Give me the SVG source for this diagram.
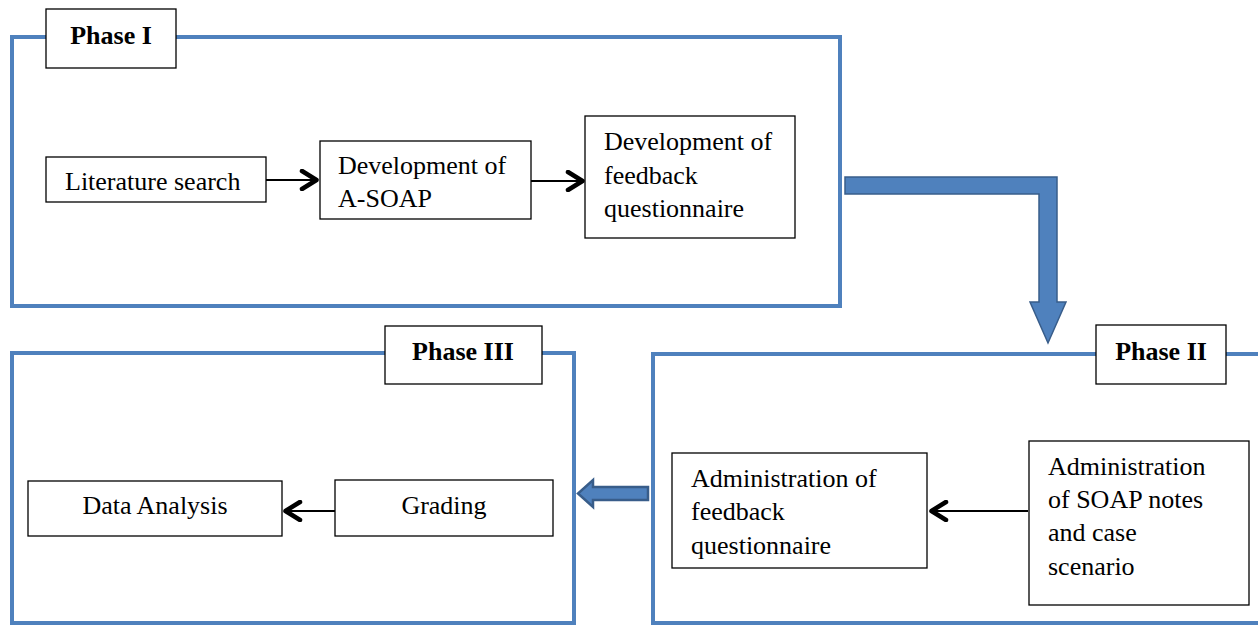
<svg xmlns="http://www.w3.org/2000/svg" width="1258" height="626" viewBox="0 0 1258 626">
<defs>
<style>
.frame{fill:none;stroke:#4f81bd;stroke-width:4}
.box{fill:#fff;stroke:#000;stroke-width:1.3}
.t{font-family:"Liberation Serif","Times New Roman",serif;font-size:26px;fill:#000}
.h{font-family:"Liberation Serif","Times New Roman",serif;font-size:26px;font-weight:bold;fill:#000;text-anchor:middle}
.c{text-anchor:middle}
.conn{stroke:#000;stroke-width:2.2;fill:none}
.block{fill:#4f81bd;stroke:#385d8a;stroke-width:1.5}
</style>
<marker id="chev" viewBox="0 0 22 22" refX="19" refY="11" markerWidth="22" markerHeight="22" markerUnits="userSpaceOnUse" orient="auto">
<path d="M4,2 L18.5,11 L4,20" fill="none" stroke="#000" stroke-width="4.5" stroke-linejoin="round" stroke-linecap="round"/>
</marker>
</defs>
<rect width="1258" height="626" fill="#fff"/>

<g id="phase1">
<rect class="frame" x="12" y="37" width="828" height="269"/>
<rect class="box" x="46" y="9" width="130" height="59"/>
<text class="h" x="111" y="44">Phase I</text>
</g>
<g id="phase2">
<rect class="frame" x="653" y="354" width="620" height="269"/>
<rect class="box" x="1096" y="325" width="130" height="59"/>
<text class="h" x="1161" y="360">Phase II</text>
</g>
<g id="phase3">
<rect class="frame" x="12" y="353" width="562" height="270"/>
<rect class="box" x="385" y="326" width="157" height="58"/>
<text class="h" x="463" y="360">Phase III</text>
</g>

<g id="literature">
<rect class="box" x="46" y="157" width="220" height="45"/>
<text class="t" x="65" y="190">Literature search</text>
</g>
<g id="asoap">
<rect class="box" x="320" y="141" width="211" height="78"/>
<text class="t" x="338" y="174">Development of</text>
<text class="t" x="338" y="207">A-SOAP</text>
</g>
<g id="devfeedback">
<rect class="box" x="585" y="116" width="210" height="122"/>
<text class="t" x="604" y="150">Development of</text>
<text class="t" x="604" y="184">feedback</text>
<text class="t" x="604" y="217">questionnaire</text>
</g>
<g id="adminsoap">
<rect class="box" x="1029" y="441" width="220" height="164"/>
<text class="t" x="1048" y="475">Administration</text>
<text class="t" x="1048" y="508">of SOAP notes</text>
<text class="t" x="1048" y="541">and case</text>
<text class="t" x="1048" y="575">scenario</text>
</g>
<g id="adminfeedback">
<rect class="box" x="672" y="453" width="255" height="115"/>
<text class="t" x="691" y="487">Administration of</text>
<text class="t" x="691" y="520">feedback</text>
<text class="t" x="691" y="554">questionnaire</text>
</g>
<g id="grading">
<rect class="box" x="335" y="480" width="218" height="56"/>
<text class="t c" x="444" y="514">Grading</text>
</g>
<g id="dataanalysis">
<rect class="box" x="28" y="481" width="254" height="55"/>
<text class="t c" x="155" y="514">Data Analysis</text>
</g>

<g id="connectors">
<line class="conn" x1="266" y1="180" x2="317" y2="180" marker-end="url(#chev)"/>
<line class="conn" x1="531" y1="181" x2="583" y2="181" marker-end="url(#chev)"/>
<line class="conn" x1="1028" y1="511" x2="931" y2="511" marker-end="url(#chev)"/>
<line class="conn" x1="335" y1="511" x2="285" y2="511" marker-end="url(#chev)"/>
<path class="block" d="M845,177 L1057,177 L1057,302 L1066,302 L1048,343 L1030,302 L1039,302 L1039,194 L845,194 Z"/>
<path class="block" style="stroke-width:2.5" d="M648,487 L593,487 L593,480 L578,493.5 L593,507 L593,500 L648,500 Z"/>
</g>
</svg>
